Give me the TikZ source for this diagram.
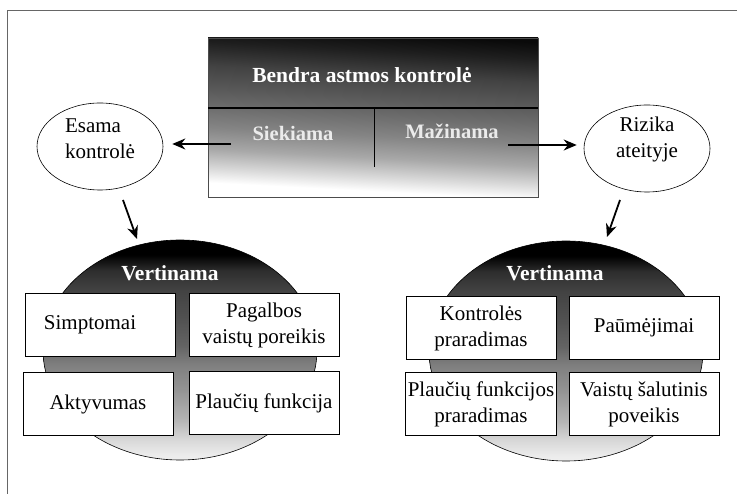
\documentclass[tikz,border=0pt]{standalone}
\usepackage{fontspec}
\setmainfont{Liberation Serif}
\usetikzlibrary{arrows.meta,shapes.geometric}
\pgfdeclareverticalshading{boxshade}{100bp}{color(0bp)=(white); color(28bp)=(white); color(32bp)=(black!14); color(38bp)=(black!34); color(44.5bp)=(black!48); color(51bp)=(black!58); color(56bp)=(black!65); color(63bp)=(black!74); color(70bp)=(black!88); color(75bp)=(black!96); color(100bp)=(black)}
\pgfdeclareverticalshading{bigshade}{100bp}{color(0bp)=(white); color(26bp)=(black!7); color(29.5bp)=(black!15); color(34bp)=(black!29); color(41bp)=(black!42); color(46.6bp)=(black!50); color(51bp)=(black!61); color(57bp)=(black!68); color(63.6bp)=(black!74); color(68bp)=(black!82); color(71.6bp)=(black); color(100bp)=(black)}
\tikzset{
  txt/.style={font=\fontsize{21}{26}\selectfont, align=center},
  itembox/.style={txt, draw=black, line width=0.7pt, fill=white, minimum width=150pt, minimum height=63pt, inner sep=2pt},
  oval/.style={draw=black, line width=0.6pt, ellipse, minimum width=126pt, minimum height=87pt, inner sep=0pt, fill=white},
  arr/.style={line width=1.8pt, -{Stealth[length=13pt,width=11pt]}},
  headtxt/.style={font=\fontsize{21.5}{26}\selectfont\bfseries, text=white},
  subtxt/.style={font=\fontsize{20.5}{26}\selectfont\bfseries, text=white!92!black},
  frameline/.style={draw=black!60, line width=0.8pt}
}
\begin{document}
\begin{tikzpicture}[x=1pt,y=-1pt]
\useasboundingbox (0,0) rectangle (737,494);
% outer frame
\draw[frameline] (7,494) -- (7,10) -- (737,10);
% top box
\path[shading=boxshade, shading angle=-3] (208,38) rectangle (538,197);
\draw[black!70, line width=0.8pt] (208,38) rectangle (538,197);
\draw[line width=1.5pt] (208,108) -- (538,108);
\draw[line width=1pt] (374,108) -- (374,167);
\node[headtxt] (bendra) at (362,75) {Bendra astmos kontrolė};
\node[subtxt] (siek) at (293,133) {Siekiama};
\node[subtxt] (maz) at (452,131) {Mažinama};
\coordinate (ls) at (231,144);
\coordinate (rs) at (508,145);
% ovals
\node[oval] (esama) at (100,146.5) {};
\node[txt, align=left] (esamat) at (100,139) {Esama\\kontrolė};
\node[oval] (rizika) at (647,148.5) {};
\node[txt] (rizikat) at (647,139) {Rizika\\ateityje};
\draw[arr, shorten >=9pt] (ls) -- (esama.east |- ls);
\draw[arr, shorten >=7pt] (rs) -- (rizika.west |- rs);
% big ellipses
\path[shading=bigshade, draw=black, line width=0.6pt] (180,350) ellipse [x radius=137, y radius=110];
\path[shading=bigshade, draw=black, line width=0.6pt] (566,351) ellipse [x radius=137, y radius=110];
\node[headtxt] (v1) at (170,273) {Vertinama};
\node[headtxt] (v2) at (555,273) {Vertinama};
% down arrows
\coordinate (d1s) at (123,200);
\coordinate (d1e) at (137,239);
\coordinate (d2s) at (620,200);
\coordinate (d2e) at (607,237);
\draw[arr] (d1s) -- (d1e);
\draw[arr] (d2s) -- (d2e);
% left boxes
\node[itembox] (simp) at (100,325) {\hspace*{-20pt}Simptomai};
\node[itembox] (pag) at (264,325) {Pagalbos\\vaistų poreikis};
\node[itembox] (akt) at (98,404) {Aktyvumas};
\node[itembox] (pf) at (264,403) {Plaučių funkcija};
% right boxes
\node[itembox] (kont) at (481,328) {Kontrolės\\praradimas};
\node[itembox] (pau) at (644,328) {Paūmėjimai};
\node[itembox] (pfp) at (481,404) {Plaučių funkcijos\\praradimas};
\node[itembox] (vsp) at (644,404) {Vaistų šalutinis\\poveikis};
\end{tikzpicture}
\end{document}
